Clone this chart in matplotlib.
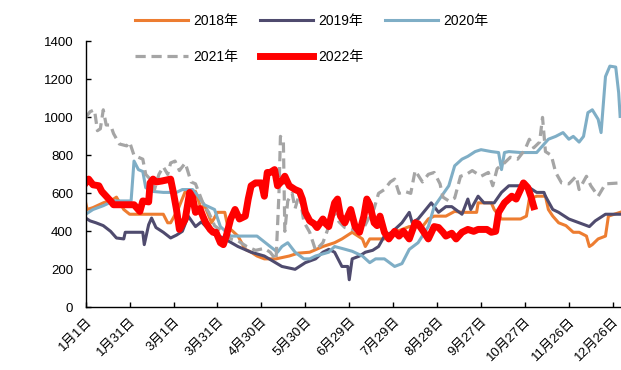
import matplotlib
matplotlib.use("Agg")
import matplotlib.pyplot as plt

plt.rcParams["font.family"] = ["Liberation Sans", "Noto Sans CJK SC", "DejaVu Sans"]

# x tick labels (every 30 days)
tick_days = [0, 30, 60, 90, 120, 150, 180, 210, 240, 270, 300, 330, 360]
tick_labels = ["1月1日", "1月31日", "3月1日", "3月31日", "4月30日", "5月30日", "6月29日",
               "7月29日", "8月28日", "9月27日", "10月27日", "11月26日", "12月26日"]

# 2018
d2018 = [0, 1, 5, 12, 19, 21, 26, 30, 40, 53, 56, 58, 63, 68, 75, 79, 81, 86, 90, 95, 97,
         104, 109, 113, 117, 122, 130, 139, 145, 153, 162, 170, 175, 182, 189, 191, 194, 204,
         211, 221, 230, 234, 238, 246, 252, 257, 267, 268, 277, 279, 284, 297, 301, 303, 308,
         314, 316, 319, 323, 328, 333, 337, 342, 344, 346, 350, 355, 357, 365]
v2018 = [550, 515, 525, 550, 570, 580, 515, 490, 490, 490, 445, 445, 515, 610, 610, 515, 540,
         445, 500, 500, 425, 375, 305, 290, 270, 255, 255, 270, 285, 290, 320, 340, 360, 395,
         360, 320, 360, 360, 395, 425, 425, 465, 480, 480, 505, 500, 500, 550, 550, 515, 465,
         465, 480, 570, 585, 585, 515, 480, 445, 430, 395, 395, 375, 320, 330, 360, 375, 480, 500]

# 2019
d2019 = [0, 3, 7, 12, 17, 21, 26, 27, 39, 40, 43, 45, 48, 53, 58, 62, 66, 70, 75, 79, 86, 95,
         104, 113, 122, 134, 143, 150, 157, 162, 166, 170, 175, 179, 180, 182, 187, 191, 196,
         200, 204, 209, 216, 221, 223, 227, 236, 241, 246, 250, 257, 261, 263, 268, 272, 279,
         284, 289, 301, 308, 313, 314, 319, 323, 330, 337, 344, 348, 355, 365]
v2019 = [470, 455, 445, 430, 400, 365, 360, 395, 395, 330, 435, 470, 420, 395, 365, 380, 400,
         480, 425, 450, 395, 360, 320, 290, 270, 215, 200, 235, 255, 290, 305, 290, 215, 215,
         145, 255, 270, 290, 300, 320, 375, 395, 445, 500, 445, 465, 550, 500, 530, 530, 490,
         570, 515, 585, 550, 550, 605, 640, 640, 605, 605, 585, 515, 500, 465, 445, 425, 455, 490, 490]

# 2020
d2020 = [0, 5, 12, 19, 28, 31, 33, 36, 39, 41, 46, 53, 62, 66, 73, 77, 81, 88, 92, 99, 109,
         117, 126, 131, 134, 138, 143, 149, 153, 157, 166, 170, 175, 182, 189, 194, 198, 204,
         211, 216, 221, 227, 234, 238, 243, 248, 252, 257, 261, 266, 270, 277, 282, 284, 286,
         289, 297, 304, 308, 312, 316, 321, 326, 330, 333, 337, 340, 343, 346, 350, 352, 355,
         358, 362, 364, 365]
v2020 = [490, 515, 535, 560, 560, 560, 770, 725, 715, 630, 610, 605, 605, 620, 620, 585, 540,
         515, 425, 375, 375, 375, 320, 290, 320, 340, 290, 255, 255, 270, 290, 320, 310, 295,
         270, 235, 255, 255, 215, 230, 305, 340, 425, 530, 585, 640, 745, 780, 795, 820, 830,
         820, 815, 725, 815, 820, 815, 815, 815, 850, 885, 900, 920, 885, 900, 870, 900, 1025,
         1040, 990, 920, 1215, 1270, 1265, 1130, 1005]

# 2021
d2021 = [0, 3, 6, 8, 10, 12, 14, 17, 19, 23, 28, 30, 33, 36, 39, 41, 44, 47, 50, 53, 56, 58,
         61, 64, 68, 72, 75, 80, 84, 88, 93, 99, 104, 110, 116, 122, 126, 130, 132, 133, 135,
         136, 138, 141, 143, 146, 149, 153, 157, 162, 166, 170, 173, 177, 182, 186, 190, 194,
         197, 200, 204, 208, 211, 214, 218, 222, 225, 230, 234, 238, 242, 244, 248, 252, 256,
         260, 264, 270, 275, 278, 281, 286, 290, 295, 300, 303, 306, 310, 312, 314, 318, 321,
         325, 330, 335, 337, 342, 345, 350, 355, 365]
v2021 = [1000, 1030, 1040, 930, 940, 1040, 960, 960, 915, 860, 850, 870, 800, 790, 780, 700,
         675, 620, 700, 740, 700, 760, 770, 720, 760, 660, 650, 550, 500, 430, 400, 360, 350,
         320, 300, 310, 290, 250, 600, 900, 880, 400, 560, 600, 520, 600, 450, 395, 300, 340,
         425, 500, 450, 420, 410, 400, 420, 480, 520, 600, 620, 660, 675, 600, 610, 600, 720,
         660, 700, 710, 650, 580, 560, 575, 690, 700, 720, 690, 710, 640, 730, 760, 790, 780,
         830, 885, 840, 870, 1000, 820, 800, 710, 655, 650, 690, 620, 690, 640, 585, 650, 655]

# 2022
d2022 = [0, 2, 5, 9, 11, 14, 17, 19, 26, 33, 37, 39, 43, 44, 46, 48, 52, 58, 60, 62, 64, 68,
         71, 73, 75, 78, 80, 82, 85, 87, 89, 92, 94, 96, 99, 102, 105, 109, 111, 113, 116, 120,
         122, 124, 126, 129, 131, 134, 136, 139, 143, 146, 148, 150, 153, 156, 158, 162, 164,
         166, 170, 172, 174, 177, 181, 184, 187, 190, 192, 194, 197, 199, 201, 204, 207, 211,
         214, 217, 221, 225, 227, 231, 234, 238, 241, 244, 246, 250, 253, 257, 261, 265, 268,
         274, 277, 280, 282, 286, 291, 294, 297, 299, 302, 304, 306]
v2022 = [655, 675, 645, 640, 610, 585, 560, 540, 540, 540, 505, 560, 555, 655, 675, 660, 665,
         675, 600, 515, 410, 465, 605, 580, 500, 520, 480, 445, 410, 395, 395, 340, 330, 375,
         465, 515, 465, 480, 570, 640, 655, 655, 585, 710, 710, 725, 640, 665, 690, 640, 620,
         610, 570, 500, 455, 440, 420, 465, 440, 425, 550, 570, 480, 445, 515, 425, 395, 480,
         570, 540, 445, 430, 480, 395, 360, 400, 375, 400, 360, 445, 440, 395, 360, 425, 420,
         395, 375, 390, 360, 395, 410, 400, 410, 410, 395, 400, 500, 550, 585, 570, 620, 655,
         630, 585, 530]

fig = plt.figure(figsize=(6.21, 3.70), dpi=100)
ax = fig.add_axes([0.138, 0.1695, 0.862, 0.7185])

l18, = ax.plot(d2018, v2018, color="#ED7D31", lw=2.2, label="2018年")
l19, = ax.plot(d2019, v2019, color="#4F4B6E", lw=2.2, label="2019年")
l20, = ax.plot(d2020, v2020, color="#7FAEC6", lw=2.2, label="2020年")
l21, = ax.plot(d2021, v2021, color="#A5A5A5", lw=2.3, ls=(0, (3.2, 1.8)), label="2021年")
l22, = ax.plot(d2022, v2022, color="#FF0000", lw=5.0, label="2022年")

ax.set_xlim(0, 365.6)
ax.set_ylim(0, 1400)
ax.set_yticks(range(0, 1401, 200))
ax.set_xticks(tick_days)
ax.set_xticklabels(tick_labels, rotation=45, ha="right", va="top", rotation_mode="anchor")

for s in ["top", "right"]:
    ax.spines[s].set_visible(False)
for s in ["left", "bottom"]:
    ax.spines[s].set_linewidth(1.0)
    ax.spines[s].set_color("black")
ax.tick_params(axis="both", direction="in", length=3.5, width=1.0, labelsize=9.5)
ax.tick_params(axis="y", pad=9)
ax.tick_params(axis="x", pad=6)

# column-first ordering so rows read 2018/2019/2020 then 2021/2022
handles = [l18, l21, l19, l22, l20]
fig.legend(handles, [h.get_label() for h in handles], ncol=3, frameon=False,
           loc="upper left", bbox_to_anchor=(0.218, 0.962), fontsize=10,
           handlelength=3.8, handletextpad=0.35, columnspacing=1.6,
           labelspacing=1.55, borderpad=0, borderaxespad=0)

fig.savefig("out.png", dpi=100)
